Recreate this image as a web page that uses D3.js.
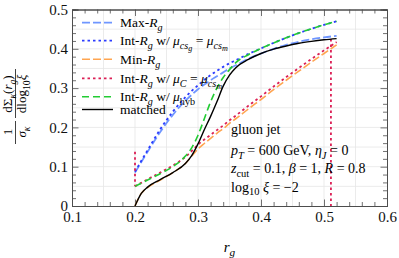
<!DOCTYPE html>
<head>
    <meta charset="utf-8">
    <title>gluon jet r_g distribution</title>
</head>
<script src="https://cdn.jsdelivr.net/npm/d3@7"></script>
<style>
    html, body { margin: 0; padding: 0; background: white; }
    text { font-family: "Liberation Serif", "Times New Roman", serif; white-space: pre; }
</style>
<div id="graph"></div>
<script>
    // r_g grid shared by all curves
    var rg = [0.20, 0.21, 0.22, 0.24, 0.26, 0.28, 0.29, 0.30, 0.31, 0.32, 0.33, 0.34, 0.35, 0.36, 0.38, 0.40, 0.42, 0.44, 0.46, 0.48, 0.50, 0.52];

    var maxRg    = [0.085, 0.112, 0.138, 0.188, 0.232, 0.268, 0.283, 0.297, 0.309, 0.320, 0.330, 0.340, 0.350, 0.358, 0.375, 0.388, 0.400, 0.410, 0.418, 0.424, 0.429, 0.433];
    var intCsm   = [0.087, 0.115, 0.142, 0.195, 0.240, 0.277, 0.293, 0.307, 0.321, 0.333, 0.344, 0.354, 0.363, 0.371, 0.387, 0.401, 0.415, 0.428, 0.440, 0.451, 0.461, 0.470];
    var minRg    = [0.000, 0.032, 0.047, 0.066, 0.085, 0.108, 0.127, 0.145, 0.159, 0.172, 0.185, 0.197, 0.210, 0.222, 0.247, 0.271, 0.296, 0.320, 0.343, 0.366, 0.388, 0.410];
    var intMuC   = [0.050, 0.059, 0.068, 0.085, 0.103, 0.125, 0.140, 0.156, 0.169, 0.181, 0.193, 0.205, 0.218, 0.230, 0.255, 0.279, 0.304, 0.328, 0.351, 0.374, 0.396, 0.417];
    var intHyb   = [0.050, 0.058, 0.066, 0.082, 0.100, 0.127, 0.148, 0.180, 0.222, 0.265, 0.300, 0.327, 0.347, 0.365, 0.385, 0.401, 0.415, 0.428, 0.440, 0.451, 0.461, 0.470];
    var matched  = [0.000, 0.032, 0.048, 0.067, 0.085, 0.108, 0.128, 0.158, 0.194, 0.228, 0.265, 0.305, 0.333, 0.352, 0.373, 0.388, 0.399, 0.407, 0.414, 0.419, 0.423, 0.426];

    // vertical jumps of the mu_C curve
    var jumpX      = [0.200, 0.511];
    var jumpTop    = [0.138, 0.425];
    var jumpBottom = [0.050, 0.000];

    var xTicks = [0.1, 0.2, 0.3, 0.4, 0.5, 0.6];
    var yTicks = [0, 0.1, 0.2, 0.3, 0.4, 0.5];

    var W = 399, H = 258;
    var pL = 72, pR = 387, pT = 9.5, pB = 206;

    var svg = d3.select("#graph").append("svg")
        .attr("width", W).attr("height", H);

    var x = d3.scaleLinear().domain([0.1, 0.6]).range([pL, pR]);
    var y = d3.scaleLinear().domain([0, 0.5]).range([pB, pT]);

    var frameColor = "#4d4d4d";

    //grid lines every 0.05
    var gx = d3.range(0.15, 0.59, 0.05), gy = d3.range(0.05, 0.49, 0.05);
    svg.append("g").selectAll("line").data(gx).enter().append("line")
        .attr("x1", d => x(d)).attr("x2", d => x(d))
        .attr("y1", pT).attr("y2", pB)
        .attr("stroke", "#e6e6e6").attr("stroke-width", 0.8);
    svg.append("g").selectAll("line").data(gy).enter().append("line")
        .attr("x1", pL).attr("x2", pR)
        .attr("y1", d => y(d)).attr("y2", d => y(d))
        .attr("stroke", "#e6e6e6").attr("stroke-width", 0.8);

    // minor ticks every 0.02
    function minors(lo, hi) {
        var out = [];
        for (var i = Math.round(lo * 50); i <= Math.round(hi * 50); i++) {
            if (i % 5 != 0) out.push(i / 50);
        }
        return out;
    }
    var fmt = d => d === 0 ? "0" : d.toFixed(1);

    function styleAxis(g) {
        g.select(".domain").attr("stroke", frameColor).attr("stroke-width", 1);
        g.selectAll(".tick line").attr("stroke", frameColor).attr("stroke-width", 0.8);
        g.selectAll(".tick text")
            .style("font-family", "'Liberation Serif', serif")
            .style("font-size", "15px").attr("fill", "#111");
    }

    // bottom
    svg.append("g").attr("transform", "translate(0," + pB + ")")
        .call(d3.axisBottom(x).tickValues(xTicks).tickSize(-6.5).tickPadding(5).tickFormat(fmt)).call(styleAxis);
    svg.append("g").attr("transform", "translate(0," + pB + ")")
        .call(d3.axisBottom(x).tickValues(minors(0.1, 0.6)).tickSize(-4).tickFormat("")).call(styleAxis);
    // top
    svg.append("g").attr("transform", "translate(0," + pT + ")")
        .call(d3.axisTop(x).tickValues(xTicks).tickSize(-6.5).tickFormat("")).call(styleAxis);
    svg.append("g").attr("transform", "translate(0," + pT + ")")
        .call(d3.axisTop(x).tickValues(minors(0.1, 0.6)).tickSize(-4).tickFormat("")).call(styleAxis);
    // left
    svg.append("g").attr("transform", "translate(" + pL + ",0)")
        .call(d3.axisLeft(y).tickValues(yTicks).tickSize(-6.5).tickPadding(4).tickFormat(fmt)).call(styleAxis);
    svg.append("g").attr("transform", "translate(" + pL + ",0)")
        .call(d3.axisLeft(y).tickValues(minors(0, 0.5)).tickSize(-4).tickFormat("")).call(styleAxis);
    // right
    svg.append("g").attr("transform", "translate(" + pR + ",0)")
        .call(d3.axisRight(y).tickValues(yTicks).tickSize(-6.5).tickFormat("")).call(styleAxis);
    svg.append("g").attr("transform", "translate(" + pR + ",0)")
        .call(d3.axisRight(y).tickValues(minors(0, 0.5)).tickSize(-4).tickFormat("")).call(styleAxis);

    // curves
    var series = [
        {vals: maxRg,   color: "#6f96ff", dash: "8,3",   w: 1.8},
        {vals: intCsm,  color: "#2c3cff", dash: "2.5,3", w: 1.8},
        {vals: minRg,   color: "#ffa550", dash: "8,3",   w: 1.6},
        {vals: intMuC,  color: "#dc1f55", dash: "2.5,3", w: 1.8},
        {vals: intHyb,  color: "#22cc33", dash: "7,4",   w: 1.6},
        {vals: matched, color: "#000000", dash: null,    w: 1.4}
    ];

    var line = d3.line()
        .x(d => x(d[0])).y(d => y(d[1]))
        .curve(d3.curveMonotoneX);

    var curves = svg.append("g");
    series.forEach(function(s, k) {
        curves.append("path")
            .datum(rg.map((r, i) => [r, s.vals[i]]))
            .attr("d", line)
            .attr("fill", "none")
            .attr("stroke", s.color)
            .attr("stroke-width", s.w)
            .attr("stroke-dasharray", s.dash);
        if (k == 3) {
            // jumps of the mu_C curve
            curves.selectAll("jump").data(jumpX).enter().append("line")
                .attr("x1", d => x(d)).attr("x2", d => x(d))
                .attr("y1", (d, i) => y(jumpTop[i])).attr("y2", (d, i) => y(jumpBottom[i]))
                .attr("stroke", s.color).attr("stroke-width", 1.8)
                .attr("stroke-dasharray", "2.5,3");
        }
    });

    //rich text: parts are [text, italic?, level] with level 0 normal, 1 sub, 2 subsub
    function rich(sel, parts, size) {
        var off = [0, 0.28 * size, 0.45 * size];
        var fs = [size, size * 0.75, size * 0.6];
        var level = 0;
        parts.forEach(function(p) {
            var lvl = p[2] || 0;
            var ts = sel.append("tspan").text(p[0])
                .style("font-size", fs[lvl] + "px");
            if (p[1]) ts.style("font-style", "italic");
            var dy = off[lvl] - off[level];
            if (dy) ts.attr("dy", dy);
            level = lvl;
        });
        return sel;
    }

    // legend
    var legendRows = [
        [["Max-"], ["R", 1], ["g", 1, 1]],
        [["Int-"], ["R", 1], ["g", 1, 1], [" w/ "], ["μ", 1], ["cs", 1, 1], ["g", 1, 2], [" = ", 0, 0], ["μ", 1], ["cs", 1, 1], ["m", 1, 2]],
        [["Min-"], ["R", 1], ["g", 1, 1]],
        [["Int-"], ["R", 1], ["g", 1, 1], [" w/ "], ["μ", 1], ["C", 1, 1], [" = "], ["μ", 1], ["cs", 1, 1], ["m", 1, 2]],
        [["Int-"], ["R", 1], ["g", 1, 1], [" w/ "], ["μ", 1], ["hyb", 0, 1]],
        [["matched"]]
    ];
    var legendY = [22.7, 40.7, 59.3, 78.3, 96.7, 109.5];
    var legend = svg.append("g");
    series.forEach(function(s, i) {
        legend.append("line")
            .attr("x1", 82).attr("x2", 113)
            .attr("y1", legendY[i]).attr("y2", legendY[i])
            .attr("stroke", s.color).attr("stroke-width", s.w)
            .attr("stroke-dasharray", s.dash);
        rich(legend.append("text").attr("x", 120).attr("y", legendY[i] + 4.5), legendRows[i], 13.5);
    });

    // annotation
    var notes = [
        [["gluon jet"]],
        [["p", 1], ["T", 1, 1], [" = 600 GeV, "], ["η", 1], ["J", 1, 1], [" = 0"]],
        [["z", 1], ["cut", 0, 1], [" = 0.1, "], ["β", 1], [" = 1, "], ["R", 1], [" = 0.8"]],
        [["log"], ["10", 0, 1], [" "], ["ξ", 1], [" = −2"]]
    ];
    var noteY = [134, 155, 173, 191.5];
    notes.forEach(function(n, i) {
        rich(svg.append("text").attr("x", 231).attr("y", noteY[i]), n, 14);
    });

    // x title
    rich(svg.append("text").attr("x", (pL + pR) / 2).attr("y", 252).attr("text-anchor", "middle"),
        [["r", 1], ["g", 1, 1]], 15);

    // y title, two stacked fractions rotated
    var yt = svg.append("g").attr("transform", "rotate(-90)");
    rich(yt.append("text").attr("x", -132).attr("y", 12).attr("text-anchor", "middle"), [["1"]], 13);
    rich(yt.append("text").attr("x", -132).attr("y", 26).attr("text-anchor", "middle"), [["σ", 1], ["κ", 1, 1]], 13);
    yt.append("line").attr("x1", -144).attr("x2", -121).attr("y1", 15.5).attr("y2", 15.5)
        .attr("stroke", "#111").attr("stroke-width", 0.8);
    rich(yt.append("text").attr("x", -94).attr("y", 12).attr("text-anchor", "middle"),
        [["dΣ"], ["κ", 1, 1], ["("], ["r", 1], ["g", 1, 1], [")"]], 13);
    rich(yt.append("text").attr("x", -94).attr("y", 26).attr("text-anchor", "middle"),
        [["dlog"], ["10", 0, 1], ["ξ", 1]], 13);
    yt.append("line").attr("x1", -118).attr("x2", -69).attr("y1", 15.5).attr("y2", 15.5)
        .attr("stroke", "#111").attr("stroke-width", 0.8);
</script>
